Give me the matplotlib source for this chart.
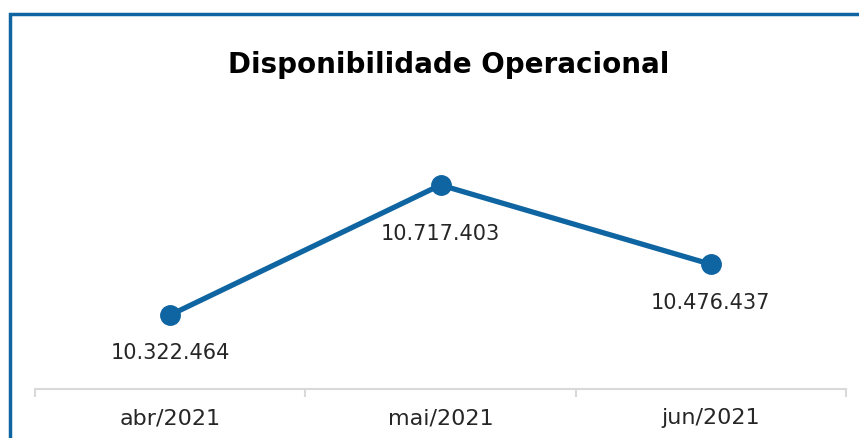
import matplotlib
matplotlib.use("Agg")
import matplotlib.pyplot as plt
from matplotlib.patches import Rectangle

# data
months = ["abr/2021", "mai/2021", "jun/2021"]
values = [10322464, 10717403, 10476437]
label_offsets = [-37, -48, -38]  # px below each point

blue = "#0f65a1"
grid_gray = "#d9d9d9"

fig = plt.figure(figsize=(8.59, 4.39), dpi=100)
W, H = 859, 439

# frame: only left and top edges are visible in the crop
fig.patches.append(Rectangle((9.5 / W, -0.1), 1.2, (H - 14.5) / H + 0.1,
                             transform=fig.transFigure, fill=False,
                             edgecolor=blue, linewidth=2.5))

ax = fig.add_axes([35 / W, (H - 390) / H, (846 - 35) / W, (390 - 100) / H])
x = list(range(len(months)))
ax.plot(x, values, color=blue, linewidth=3.8, marker="o", markersize=14,
        zorder=3, clip_on=False)

for xi, v, off in zip(x, values, label_offsets):
    s = f"{v:,}".replace(",", ".")
    ax.annotate(s, (xi, v), xytext=(0, off * 0.72), textcoords="offset points",
                ha="center", va="center", fontsize=15, color="#262626")

ax.set_xlim(-0.5, 2.5)
ax.set_ylim(10097652, 10978671)
ax.set_yticks([])
ax.set_xticks(x)
ax.set_xticklabels(months, fontsize=16, color="#262626")
ax.tick_params(axis="x", which="major", length=0, pad=13)
ax.set_xticks([-0.5, 0.5, 1.5, 2.5], minor=True)
ax.tick_params(axis="x", which="minor", length=5.5, width=1.5, color=grid_gray)

for side in ["top", "right", "left"]:
    ax.spines[side].set_visible(False)
ax.spines["bottom"].set_color(grid_gray)
ax.spines["bottom"].set_linewidth(1.5)

fig.text(449 / W, (H - 65) / H, "Disponibilidade Operacional", ha="center",
         va="center", fontsize=20, fontweight="bold", color="black")

fig.savefig("out.png", dpi=100)
